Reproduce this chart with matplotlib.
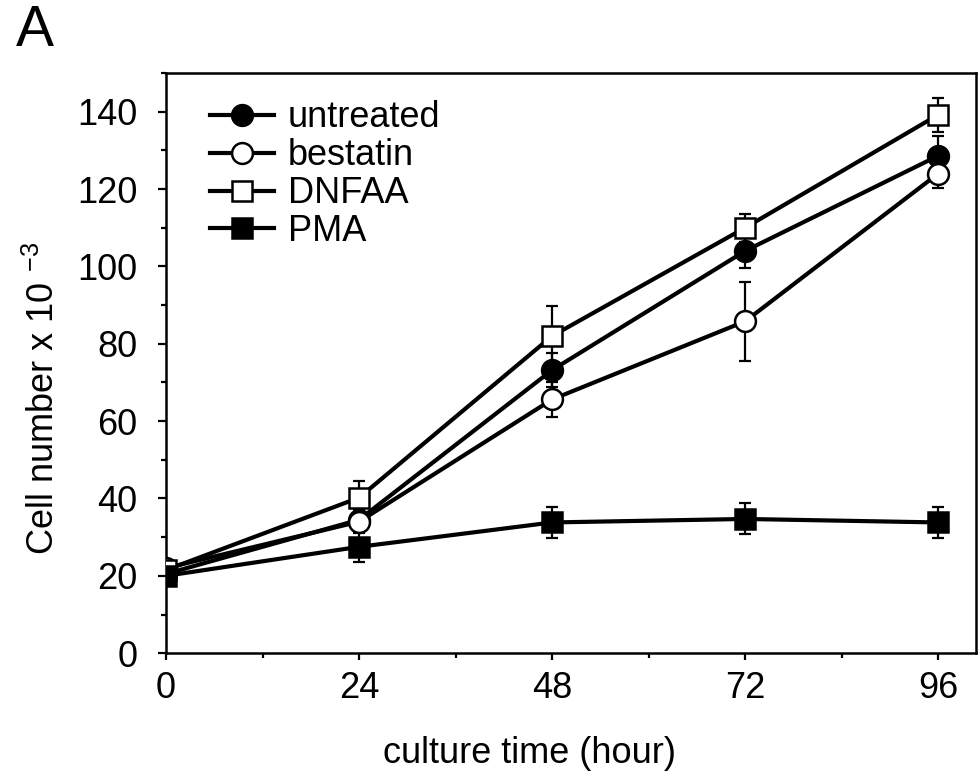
import numpy as np
import matplotlib.pyplot as plt
from matplotlib.ticker import MultipleLocator

plt.rcParams['font.family'] = ['Liberation Sans', 'DejaVu Sans']

# datos
horas = [0, 24, 48, 72, 96]
untreated = [20.5, 34.5, 73.2, 104.0, 128.6]
untreated_err = [1.0, 3.0, 4.3, 4.4, 5.0]
bestatin = [22.0, 34.0, 65.6, 85.8, 124.0]
bestatin_err = [1.0, 3.0, 4.6, 10.2, 3.7]
dnfaa = [21.5, 40.2, 82.0, 110.0, 139.2]
dnfaa_err = [1.0, 4.4, 7.7, 3.6, 4.4]
pma = [20.0, 27.5, 33.8, 34.7, 33.8]
pma_err = [1.0, 3.9, 4.0, 4.0, 3.9]

fig = plt.figure(figsize=(9.79, 7.73), dpi=100)
ax = fig.add_axes([0.1696, 0.155, 0.8274, 0.7506])

series = [
    ('untreated', untreated, untreated_err, 'o', 'black', 15),
    ('bestatin', bestatin, bestatin_err, 'o', 'white', 15),
    ('DNFAA', dnfaa, dnfaa_err, 's', 'white', 14),
    ('PMA', pma, pma_err, 's', 'black', 14),
]

# primero las lineas y barras de error, despues los marcadores
for nombre, vals, err, mk, fc, ms in series:
    ax.errorbar(horas, vals, yerr=err, fmt='none', ecolor='black',
                elinewidth=1.6, capsize=4, capthick=1.6, zorder=2)
    ax.plot(horas, vals, color='black', linewidth=3, zorder=3)
handles = []
for nombre, vals, err, mk, fc, ms in series:
    ax.plot(horas, vals, linestyle='none', marker=mk, markersize=ms,
            markerfacecolor=fc, markeredgecolor='black', markeredgewidth=1.8, zorder=4)
    h, = ax.plot([], [], color='black', linewidth=3, marker=mk, markersize=ms,
                 markerfacecolor=fc, markeredgecolor='black', markeredgewidth=1.8,
                 label=nombre)
    handles.append(h)

ax.set_xlim(0, 100.7)
ax.set_ylim(0, 150)
ax.set_xticks(horas)
ax.set_yticks(np.arange(0, 141, 20))
ax.xaxis.set_minor_locator(MultipleLocator(12))
ax.yaxis.set_minor_locator(MultipleLocator(10))
ax.tick_params(axis='y', which='major', direction='out', length=6, width=1.6, labelsize=26, pad=14.5)
ax.tick_params(axis='x', which='major', direction='out', length=5, width=1.6, labelsize=26, pad=8)
ax.tick_params(which='minor', direction='out', length=3.5, width=1.6)
for s in ax.spines.values():
    s.set_linewidth(1.8)

ax.set_xlabel('culture time (hour)', fontsize=26)
ax.set_ylabel('Cell number x 10 $^{\\mathregular{-3}}$', fontsize=26)
ax.xaxis.set_label_coords(0.449, -0.142)
ax.yaxis.set_label_coords(-0.128, 0.44)

ax.legend(handles=handles, loc='upper left', bbox_to_anchor=(0.028, 0.99),
          frameon=False, fontsize=26, handlelength=1.75, handletextpad=0.4,
          labelspacing=0.08, borderaxespad=0.2)

fig.text(0.016, 0.94, 'A', fontsize=41)

plt.savefig('out.png', dpi=100)
